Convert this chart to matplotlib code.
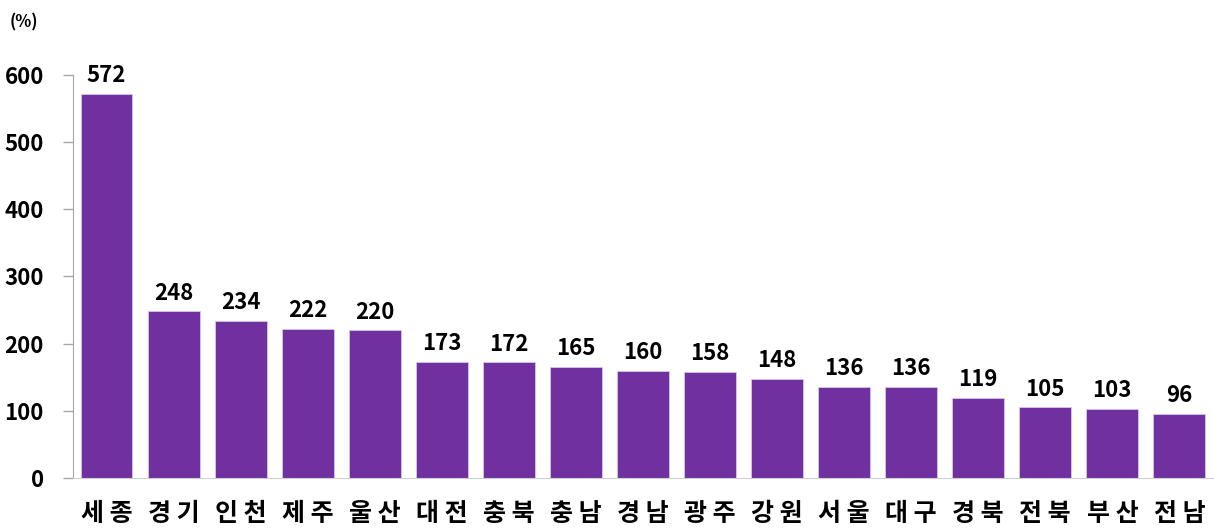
import matplotlib
matplotlib.use("Agg")
import matplotlib.pyplot as plt

plt.rcParams['font.family'] = ['Noto Sans CJK KR', 'DejaVu Sans']

categories = ["세종", "경기", "인천", "제주", "울산", "대전", "충북", "충남", "경남",
              "광주", "강원", "서울", "대구", "경북", "전북", "부산", "전남"]
values = [572, 248, 234, 222, 220, 173, 172, 165, 160, 158, 148, 136, 136, 119, 105, 103, 96]
yticks = [0, 100, 200, 300, 400, 500, 600]

fig = plt.figure(figsize=(12.14, 5.31), dpi=100)
ax = fig.add_axes([0.0601, 0.0998, 0.939, 0.759])

x = list(range(len(categories)))
bars = ax.bar(x, values, width=0.775, color="#7030A0", edgecolor="#D9C6E8", linewidth=0.6, zorder=2)

for xi, v in zip(x, values):
    ax.text(xi, v + 10, str(v), ha="center", va="bottom", fontsize=16, fontweight="bold", color="black")

ax.set_xlim(-0.5, len(categories) - 0.5)
ax.set_ylim(0, 600)
ax.set_yticks(yticks)
ax.set_yticklabels([str(t) for t in yticks], fontsize=16, fontweight="bold")
ax.set_xticks(x)
ax.set_xticklabels([" ".join(c) for c in categories], fontsize=18, fontweight="bold")
ax.tick_params(axis="x", length=0, pad=17)
ax.tick_params(axis="y", length=7, width=1, color="#A6A6A6", pad=14, direction="out")

for s in ["top", "right"]:
    ax.spines[s].set_visible(False)
ax.spines["left"].set_color("#A6A6A6")
ax.spines["bottom"].set_color("#D0D0D0")

fig.text(0.008, 0.958, "(%)", fontsize=12, fontweight="bold", ha="left", va="center")

fig.savefig("out.png", dpi=100)
